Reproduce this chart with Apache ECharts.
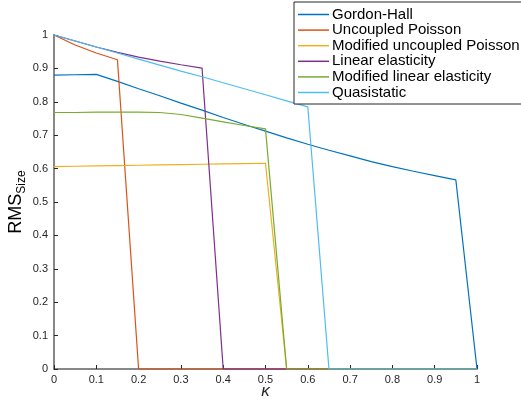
<!DOCTYPE html>
<html>
<head>
<meta charset="utf-8">
<script src="https://cdn.jsdelivr.net/npm/echarts@6/dist/echarts.min.js"></script>
<style>
  html, body { margin: 0; padding: 0; background: #fff; }
  #chart { width: 521px; height: 403px; }
</style>
</head>
<body>
<div id="chart"></div>
<script>
// kappa sample points
const kappa = [0, 0.05, 0.1, 0.15, 0.2, 0.25, 0.3, 0.35, 0.4, 0.45, 0.5,
               0.55, 0.6, 0.65, 0.7, 0.75, 0.8, 0.85, 0.9, 0.95, 1];

const gordonHall = [0.880, 0.881, 0.882, 0.861, 0.839, 0.818, 0.796, 0.775, 0.753, 0.732, 0.712,
                    0.692, 0.673, 0.655, 0.638, 0.621, 0.606, 0.592, 0.579, 0.566, 0];
const uncoupledPoisson = [1, 0.970, 0.946, 0.926, 0, 0, 0, 0, 0, 0, 0,
                          0, 0, 0, 0, 0, 0, 0, 0, 0, 0];
const modifiedUncoupledPoisson = [0.606, 0.607, 0.608, 0.609, 0.610, 0.611, 0.612, 0.613, 0.614, 0.615, 0.616,
                                  0, 0, 0, 0, 0, 0, 0, 0, 0, 0];
const linearElasticity = [1, 0.982, 0.964, 0.948, 0.934, 0.922, 0.911, 0.901, 0, 0, 0,
                          0, 0, 0, 0, 0, 0, 0, 0, 0, 0];
const modifiedLinearElasticity = [0.768, 0.768, 0.769, 0.769, 0.769, 0.768, 0.762, 0.751, 0.740, 0.729, 0.719,
                                  0, 0, 0, 0, 0, 0, 0, 0, 0, 0];
const quasistatic = [1, 0.982, 0.964, 0.946, 0.928, 0.910, 0.892, 0.875, 0.857, 0.839, 0.821,
                     0.803, 0.785, 0, 0, 0, 0, 0, 0, 0, 0];

const seriesNames = ['Gordon-Hall', 'Uncoupled Poisson', 'Modified uncoupled Poisson',
                     'Linear elasticity', 'Modified linear elasticity', 'Quasistatic'];
const seriesValues = [gordonHall, uncoupledPoisson, modifiedUncoupledPoisson,
                      linearElasticity, modifiedLinearElasticity, quasistatic];
const colors = ['#0072BD', '#D95319', '#EDB120', '#7E2F8E', '#77AC30', '#4DBEEE'];

const tickTextColor = '#262626';
const font = 'Liberation Sans, Arial, Helvetica, sans-serif';

const chart = echarts.init(document.getElementById('chart'), null, { renderer: 'canvas' });

chart.setOption({
  animation: false,
  color: colors,
  textStyle: { fontFamily: font },
  grid: { left: 54, right: 44, top: 35, bottom: 34, containLabel: false, outerBoundsMode: 'none' },
  legend: {
    orient: 'vertical',
    left: 294,
    top: 2,
    padding: [5, 12, 4, 4],
    itemGap: 0.6,
    itemWidth: 31,
    itemHeight: 1.5,
    icon: 'rect',
    backgroundColor: '#fff',
    borderColor: '#262626',
    borderWidth: 1,
    borderRadius: 0,
    textStyle: { fontSize: 15, color: '#000', fontFamily: font, padding: [0, 0, 0, -2], lineHeight: 15 },
    data: seriesNames
  },
  xAxis: {
    type: 'value',
    min: 0, max: 1, interval: 0.1,
    name: 'κ',
    nameLocation: 'middle',
    nameGap: 14,
    nameMoveOverlap: false,
    nameTextStyle: { fontSize: 17, fontStyle: 'italic', color: tickTextColor, fontFamily: font },
    axisLine: { show: true, lineStyle: { color: '#888', width: 2 } },
    axisTick: { show: true, inside: true, length: 4, lineStyle: { color: '#262626', width: 1 } },
    axisLabel: { fontSize: 11, color: tickTextColor, margin: 5 },
    splitLine: { show: false }
  },
  yAxis: {
    type: 'value',
    min: 0, max: 1, interval: 0.1,
    name: '{a|RMS}{b|Size}',
    nameLocation: 'middle',
    nameGap: 26,
    nameMoveOverlap: false,
    nameRotate: 90,
    nameTextStyle: {
      rich: {
        a: { fontSize: 18, color: '#000', fontFamily: font },
        b: { fontSize: 12, color: '#000', fontFamily: font, padding: [11, 0, 0, 0] }
      }
    },
    axisLine: { show: true, lineStyle: { color: '#888', width: 2 } },
    axisTick: { show: true, inside: true, length: 4, lineStyle: { color: '#262626', width: 1 } },
    axisLabel: { fontSize: 11, color: tickTextColor, margin: 6 },
    splitLine: { show: false }
  },
  series: seriesNames.map((name, i) => ({
    name: name,
    type: 'line',
    data: kappa.map((k, j) => [k, seriesValues[i][j]]),
    symbol: 'none',
    clip: false,
    lineStyle: { width: 1.2, color: colors[i] },
    itemStyle: { color: colors[i] },
    emphasis: { disabled: true }
  }))
});
</script>
</body>
</html>
